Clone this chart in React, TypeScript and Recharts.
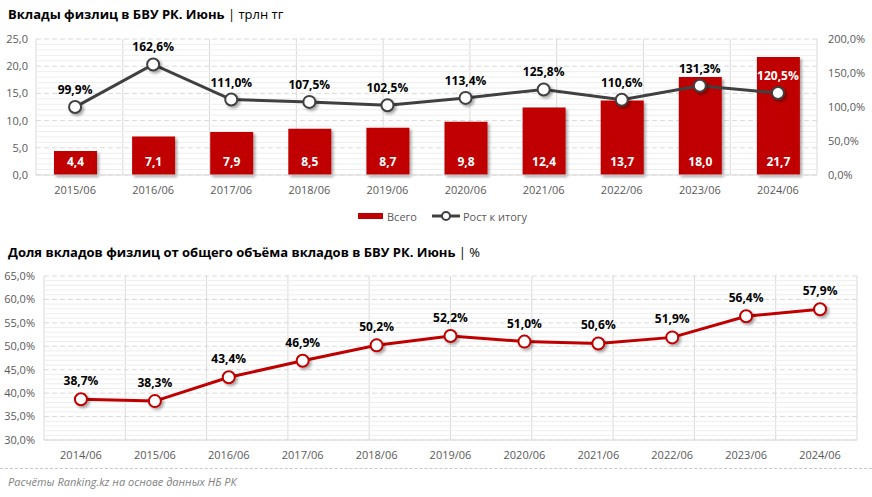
import React from 'react';
import {
  ComposedChart,
  Bar,
  Line,
  XAxis,
  YAxis,
  CartesianGrid,
  ReferenceLine,
  LabelList,
  Rectangle,
} from 'recharts';

const periods1 = ['2015/06', '2016/06', '2017/06', '2018/06', '2019/06', '2020/06', '2021/06', '2022/06', '2023/06', '2024/06'];
const totals = [4.4, 7.1, 7.9, 8.5, 8.7, 9.8, 12.4, 13.7, 18.0, 21.7];
const growth = [99.9, 162.6, 111.0, 107.5, 102.5, 113.4, 125.8, 110.6, 131.3, 120.5];

const periods2 = ['2014/06', '2015/06', '2016/06', '2017/06', '2018/06', '2019/06', '2020/06', '2021/06', '2022/06', '2023/06', '2024/06'];
const share = [38.7, 38.3, 43.4, 46.9, 50.2, 52.2, 51.0, 50.6, 51.9, 56.4, 57.9];

const leftTicks = [0, 5, 10, 15, 20, 25];
const rightTicks = [0, 50, 100, 150, 200];
const shareTicks = [30, 35, 40, 45, 50, 55, 60, 65];

const FONT = '"Open Sans", "Liberation Sans", sans-serif';
const RED = '#C00000';
const DARK = '#404040';
const TICK = { fontSize: 11, fill: '#595959', fontFamily: FONT };

const fmt = (v: number) => v.toFixed(1).replace('.', ',');

const data1 = periods1.map((p, i) => ({ period: p, total: totals[i], growth: growth[i] }));
const data2 = periods2.map((p, i) => ({ period: p, share: share[i] }));

const range = (a: number, b: number) => Array.from({ length: b - a + 1 }, (_, i) => a + i);
const minor1 = range(1, 24).filter((v) => v % 5 !== 0);
const minor2 = range(31, 64).filter((v) => v % 5 !== 0);

const Shadow = ({ id }: { id: string }) => (
  <defs>
    <filter id={id} x="-30%" y="-30%" width="170%" height="170%">
      <feDropShadow dx="2" dy="2" stdDeviation="1.8" floodColor="#000" floodOpacity="0.35" />
    </filter>
  </defs>
);

function TopChart() {
  const growthLabel = (props: any) => {
    const { x, y, value, index } = props;
    // label sits inside the red bar when the bar reaches above it
    const inside = totals[index] > growth[index] / 8 + 2;
    return (
      <text x={x} y={y - 13} textAnchor="middle" fontSize={12} fontWeight={700} fontFamily={FONT} fill={inside ? '#fff' : '#000'}>
        {fmt(value) + '%'}
      </text>
    );
  };
  const totalLabel = (props: any) => {
    const { x, y, width, height, value } = props;
    return (
      <text x={x + width / 2} y={y + height - 9} textAnchor="middle" fontSize={12} fontWeight={700} fontFamily={FONT} fill="#fff">
        {fmt(value)}
      </text>
    );
  };
  return (
    <ComposedChart width={872} height={205} data={data1} margin={{ top: 39, right: 0, bottom: 0, left: 0 }}>
      <Shadow id="sh1" />
      <XAxis xAxisId="grid" type="number" domain={[0, 10]} ticks={range(0, 10)} hide allowDataOverflow />
      <XAxis dataKey="period" scale="band" tickLine={false} axisLine={{ stroke: '#d9d9d9' }} tick={TICK} tickMargin={5} height={30} interval={0} />
      <YAxis yAxisId="left" domain={[0, 25]} ticks={leftTicks} tickFormatter={fmt} tickLine={false} axisLine={false} tick={TICK} width={36} />
      <YAxis yAxisId="right" orientation="right" domain={[0, 200]} ticks={rightTicks} tickFormatter={(v: number) => fmt(v) + '%'} tickLine={false} axisLine={false} tick={TICK} tickMargin={5} width={55} />
      {minor1.map((v) => (
        <ReferenceLine key={v} yAxisId="left" y={v} stroke="#eeeeee" strokeWidth={1} zIndex={-50} />
      ))}
      <CartesianGrid yAxisId="left" xAxisId="grid" horizontal={false} vertical stroke="#d9d9d9" />
      <CartesianGrid yAxisId="left" horizontal vertical={false} stroke="#d9d9d9" strokeDasharray="5 3" />
      <Bar
        yAxisId="left"
        dataKey="total"
        fill={RED}
        barSize={43}
        isAnimationActive={false}
        shape={(p: any) => <Rectangle {...p} filter="url(#sh1)" />}
      >
        <LabelList dataKey="total" content={totalLabel} />
      </Bar>
      <Line
        yAxisId="right"
        dataKey="growth"
        stroke={DARK}
        strokeWidth={3}
        dot={{ r: 6, fill: '#fff', stroke: DARK, strokeWidth: 2, filter: 'url(#sh1)' }}
        isAnimationActive={false}
      >
        <LabelList dataKey="growth" content={growthLabel} />
      </Line>
    </ComposedChart>
  );
}

function BottomChart() {
  const shareLabel = (props: any) => {
    const { x, y, value } = props;
    return (
      <text x={x} y={y - 14} textAnchor="middle" fontSize={12} fontWeight={700} fontFamily={FONT} fill="#000">
        {fmt(value) + '%'}
      </text>
    );
  };
  return (
    <ComposedChart width={872} height={202} data={data2} margin={{ top: 14, right: 15, bottom: 0, left: 0 }}>
      <Shadow id="sh2" />
      <XAxis xAxisId="grid" type="number" domain={[0, 11]} ticks={range(0, 11)} hide allowDataOverflow />
      <XAxis dataKey="period" scale="band" tickLine={false} axisLine={{ stroke: '#d9d9d9' }} tick={TICK} tickMargin={5} height={24} interval={0} />
      <YAxis domain={[30, 65]} ticks={shareTicks} tickFormatter={(v: number) => fmt(v) + '%'} tickLine={false} axisLine={false} tick={TICK} width={44} tickMargin={3} />
      {minor2.map((v) => (
        <ReferenceLine key={v} y={v} stroke="#eeeeee" strokeWidth={1} zIndex={-50} />
      ))}
      <CartesianGrid xAxisId="grid" horizontal={false} vertical stroke="#d9d9d9" />
      <CartesianGrid horizontal vertical={false} stroke="#d9d9d9" strokeDasharray="5 3" />
      <Line
        dataKey="share"
        stroke={RED}
        strokeWidth={3}
        dot={{ r: 6, fill: '#fff', stroke: RED, strokeWidth: 2, filter: 'url(#sh2)' }}
        isAnimationActive={false}
      >
        <LabelList dataKey="share" content={shareLabel} />
      </Line>
    </ComposedChart>
  );
}

export default function App() {
  const title: React.CSSProperties = { position: 'absolute', left: 8, fontSize: 13, fontFamily: FONT, color: '#000', whiteSpace: 'nowrap' };
  const legendText: React.CSSProperties = { fontSize: 11, color: '#595959', fontFamily: FONT };
  return (
    <div style={{ position: 'fixed', left: 0, top: 0, width: 872, height: 497, background: '#fff', overflow: 'hidden' }}>
      <div style={{ ...title, top: 5 }}>
        <b>Вклады физлиц в БВУ РК. Июнь</b> | трлн тг
      </div>
      <div style={{ position: 'absolute', left: 0, top: 0 }}>
        <TopChart />
      </div>
      <div style={{ position: 'absolute', left: 358, top: 208, display: 'flex', alignItems: 'center', height: 16 }}>
        <span style={{ display: 'inline-block', width: 25, height: 6, background: RED, marginRight: 4 }} />
        <span style={legendText}>Всего</span>
        <svg width={30} height={14} style={{ marginLeft: 14, marginRight: 2 }}>
          <line x1={1} y1={7} x2={29} y2={7} stroke={DARK} strokeWidth={3} />
          <circle cx={15} cy={7} r={4} fill="#fff" stroke={DARK} strokeWidth={2} />
        </svg>
        <span style={legendText}>Рост к итогу</span>
      </div>
      <div style={{ ...title, top: 243 }}>
        <b>Доля вкладов физлиц от общего объёма вкладов в БВУ РК. Июнь</b> | %
      </div>
      <div style={{ position: 'absolute', left: 0, top: 262 }}>
        <BottomChart />
      </div>
      <div style={{ position: 'absolute', left: 0, top: 468, width: 872, borderTop: '1px dashed #c8c8c8' }} />
      <div style={{ position: 'absolute', left: 8, top: 474, fontSize: 11, fontStyle: 'italic', color: '#7f7f7f', fontFamily: FONT }}>
        Расчёты Ranking.kz на основе данных НБ РК
      </div>
    </div>
  );
}
